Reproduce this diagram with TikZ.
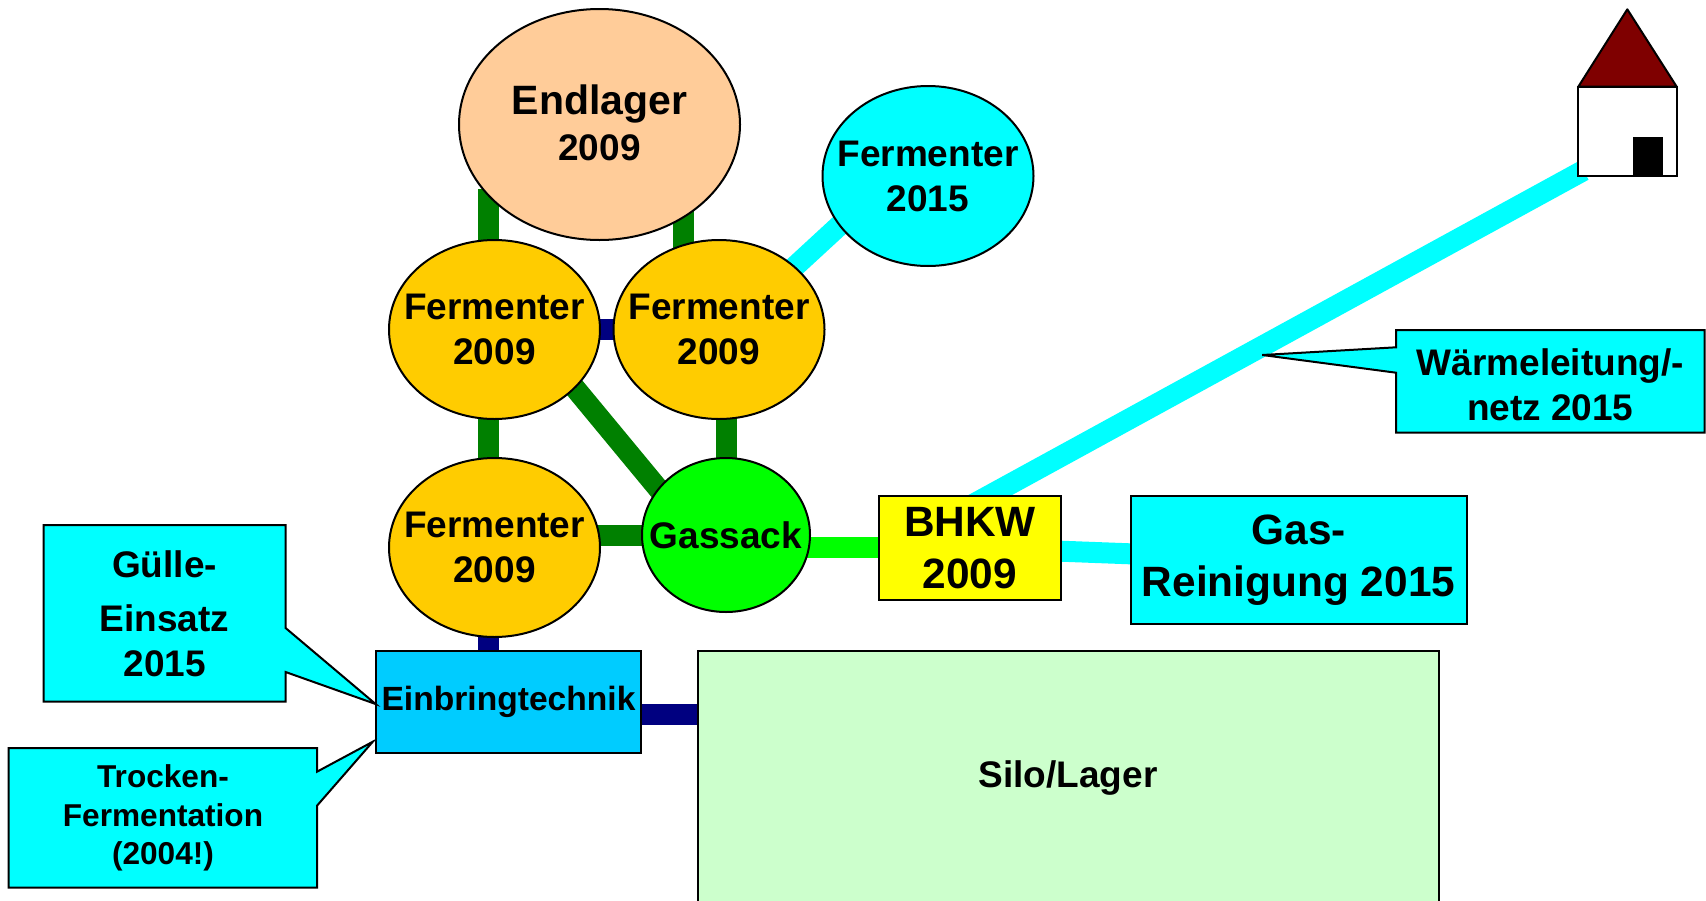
\documentclass[tikz,border=0pt]{standalone}
\usepackage{fontspec}
\setmainfont{Liberation Sans}
\usetikzlibrary{shapes.geometric,calc}
\definecolor{cPipe}{HTML}{008000}
\definecolor{cNavy}{HTML}{000080}
\definecolor{cCyan}{HTML}{00FFFF}
\definecolor{cLime}{HTML}{00FF00}
\definecolor{cOrange}{HTML}{FFCC00}
\definecolor{cPeach}{HTML}{FFCC99}
\definecolor{cBlue}{HTML}{00CCFF}
\definecolor{cSilo}{HTML}{CCFFCC}
\definecolor{cYellow}{HTML}{FFFF00}
\definecolor{cRoof}{HTML}{7F0000}
\tikzset{
  pipe/.style={line width=21pt,line cap=butt},
  greenpipe/.style={pipe,color=cPipe},
  navypipe/.style={pipe,color=cNavy},
  cyanpipe/.style={pipe,color=cCyan},
  limepipe/.style={pipe,color=cLime},
  outl/.style={draw=black,line width=2pt,line join=miter},
  tank/.style={ellipse,outl,inner sep=0pt,outer sep=0pt},
  box/.style={rectangle,outl,inner sep=0pt,outer sep=0pt,align=center},
  lbl/.style={inner sep=0pt,outer sep=0pt,align=center,font=\fontsize{37}{45}\selectfont\bfseries},
  big/.style={font=\fontsize{42.4}{52}\selectfont\bfseries},
}
\begin{document}
\begin{tikzpicture}[x=1pt,y=-1pt]
\useasboundingbox (0,0) rectangle (1706,900);
\clip (0,0) rectangle (1706,900);
\fill[white] (0,0) rectangle (1706,900);
% anchors of the shapes (drawn later, named now)
\path
  (599.5,124.5) coordinate (pEnd)
  (494.5,329.5) coordinate (pFtl)
  (719,329.5)   coordinate (pFtr)
  (494.5,547.5) coordinate (pFbl)
  (928,176)     coordinate (pFn)
  (726,535)     coordinate (pGas)
  (970,547.75)  coordinate (pBhkw)
  (1298.6,560.2) coordinate (pRein)
  (508.5,701.7) coordinate (pEin)
  (1068,778)    coordinate (pSilo);
\coordinate (gL) at (488,189);
\coordinate (gR) at (683.7,150);
\coordinate (dA) at (560,370);
\coordinate (dB) at (680,515);
\coordinate (cA) at (790,271);
\coordinate (cB) at (845,220.3);
\coordinate (hA) at (1583.5,170.5);
\coordinate (hB) at (926.3,530);
\coordinate (nv) at (600,714.5);
% connectors
\draw[greenpipe] (gL) -- (gL |- pFtl);
\draw[greenpipe] (gL |- pFtl) -- (gL |- pFbl);
\draw[greenpipe] (gR) -- (gR |- pFtr);
\draw[greenpipe] (pFtr -| pGas) -- (pGas);
\draw[greenpipe] (dA) -- (dB);
\draw[greenpipe] (pGas -| pFbl) -- (pGas);
\draw[navypipe] (pFtl) -- (pFtr);
\draw[navypipe] (gL |- pFbl) -- (gL |- pEin);
\draw[navypipe] (nv) -- (nv -| pSilo);
\draw[cyanpipe] (cA) -- (cB);
\draw[cyanpipe] (hA) -- (hB);
\draw[limepipe] (pBhkw -| pGas) -- (pBhkw);
\draw[cyanpipe] (pBhkw) -- (pRein);
% tanks
\node[tank,fill=cPeach,minimum width=281pt,minimum height=231pt] (endlager) at (pEnd) {};
\node[tank,fill=cOrange,minimum width=211pt,minimum height=179pt] (ftl) at (pFtl) {};
\node[tank,fill=cOrange,minimum width=211pt,minimum height=179pt] (ftr) at (pFtr) {};
\node[tank,fill=cOrange,minimum width=211pt,minimum height=179pt] (fbl) at (pFbl) {};
\node[tank,fill=cCyan,minimum width=211pt,minimum height=180pt] (fnew) at (pFn) {};
\node[tank,fill=cLime,minimum width=168pt,minimum height=154pt] (gassack) at (pGas) {};
\node[lbl,font=\fontsize{41}{45}\selectfont\bfseries] (tEnd1) at ($(pEnd)+(0,-21)$) {Endlager};
\node[lbl] (tEnd2) at ($(pEnd)+(0,23)$) {2009};
\node[lbl] (tFtl) at (pFtl) {Fermenter\\2009};
\node[lbl] (tFtr) at (pFtr) {Fermenter\\2009};
\node[lbl] (tFbl) at (pFbl) {Fermenter\\2009};
\node[lbl] (tFn) at (pFn) {Fermenter\\2015};
\node[lbl] (tGas) at (pGas) {Gassack};
% boxes
\node[box,fill=cYellow,big,minimum width=182pt,minimum height=103.5pt] (bhkw) at (pBhkw) {BHKW\\2009};
\node[box,fill=cCyan,big,minimum width=336.2pt,minimum height=128.5pt] (rein) at (pRein) {Gas-\\Reinigung 2015};
\node[box,fill=cBlue,font=\fontsize{33.6}{40}\selectfont\bfseries,minimum width=265.8pt,minimum height=102pt] (einbring) at (pEin) {Einbringtechnik};
\node[box,fill=cSilo,font=\fontsize{37}{45}\selectfont\bfseries,minimum width=741pt,minimum height=254.6pt] (silo) at (pSilo) {Silo/Lager};
% callouts
\draw[outl,fill=cCyan] (43.6,525) -- (285.6,525) -- (285.6,628) -- (375.6,704) -- (285.6,672) -- (285.6,701.7) -- (43.6,701.7) -- cycle;
\node[lbl] (tGuelle) at (164.6,613.3) {Gülle-\\[9pt]Einsatz\\2015};
\draw[outl,fill=cCyan] (8.7,748) -- (317,748) -- (317,771.7) -- (372.8,741.7) -- (317,805.7) -- (317,887.7) -- (8.7,887.7) -- cycle;
\node[lbl,font=\fontsize{31.6}{38.5}\selectfont\bfseries] (tTrocken) at (163,818) {Trocken-\\Fermentation\\(2004!)};
\draw[outl,fill=cCyan] (1396,330) -- (1704.7,330) -- (1704.7,432.7) -- (1396,432.7) -- (1396,372.7) -- (1262.3,355) -- (1396,347.3) -- cycle;
\node[lbl] (tWaerme) at (1550.3,385) {Wärmeleitung/-\\netz 2015};
% house
\draw[outl,fill=white] (1578.3,86.7) rectangle (1676.7,176);
\fill[black] (1633,136.7) rectangle (1663,176);
\draw[outl,fill=cRoof,line join=round] (1578.3,86.7) -- (1627.3,9.3) -- (1676.7,86.7) -- cycle;
\end{tikzpicture}
\end{document}
